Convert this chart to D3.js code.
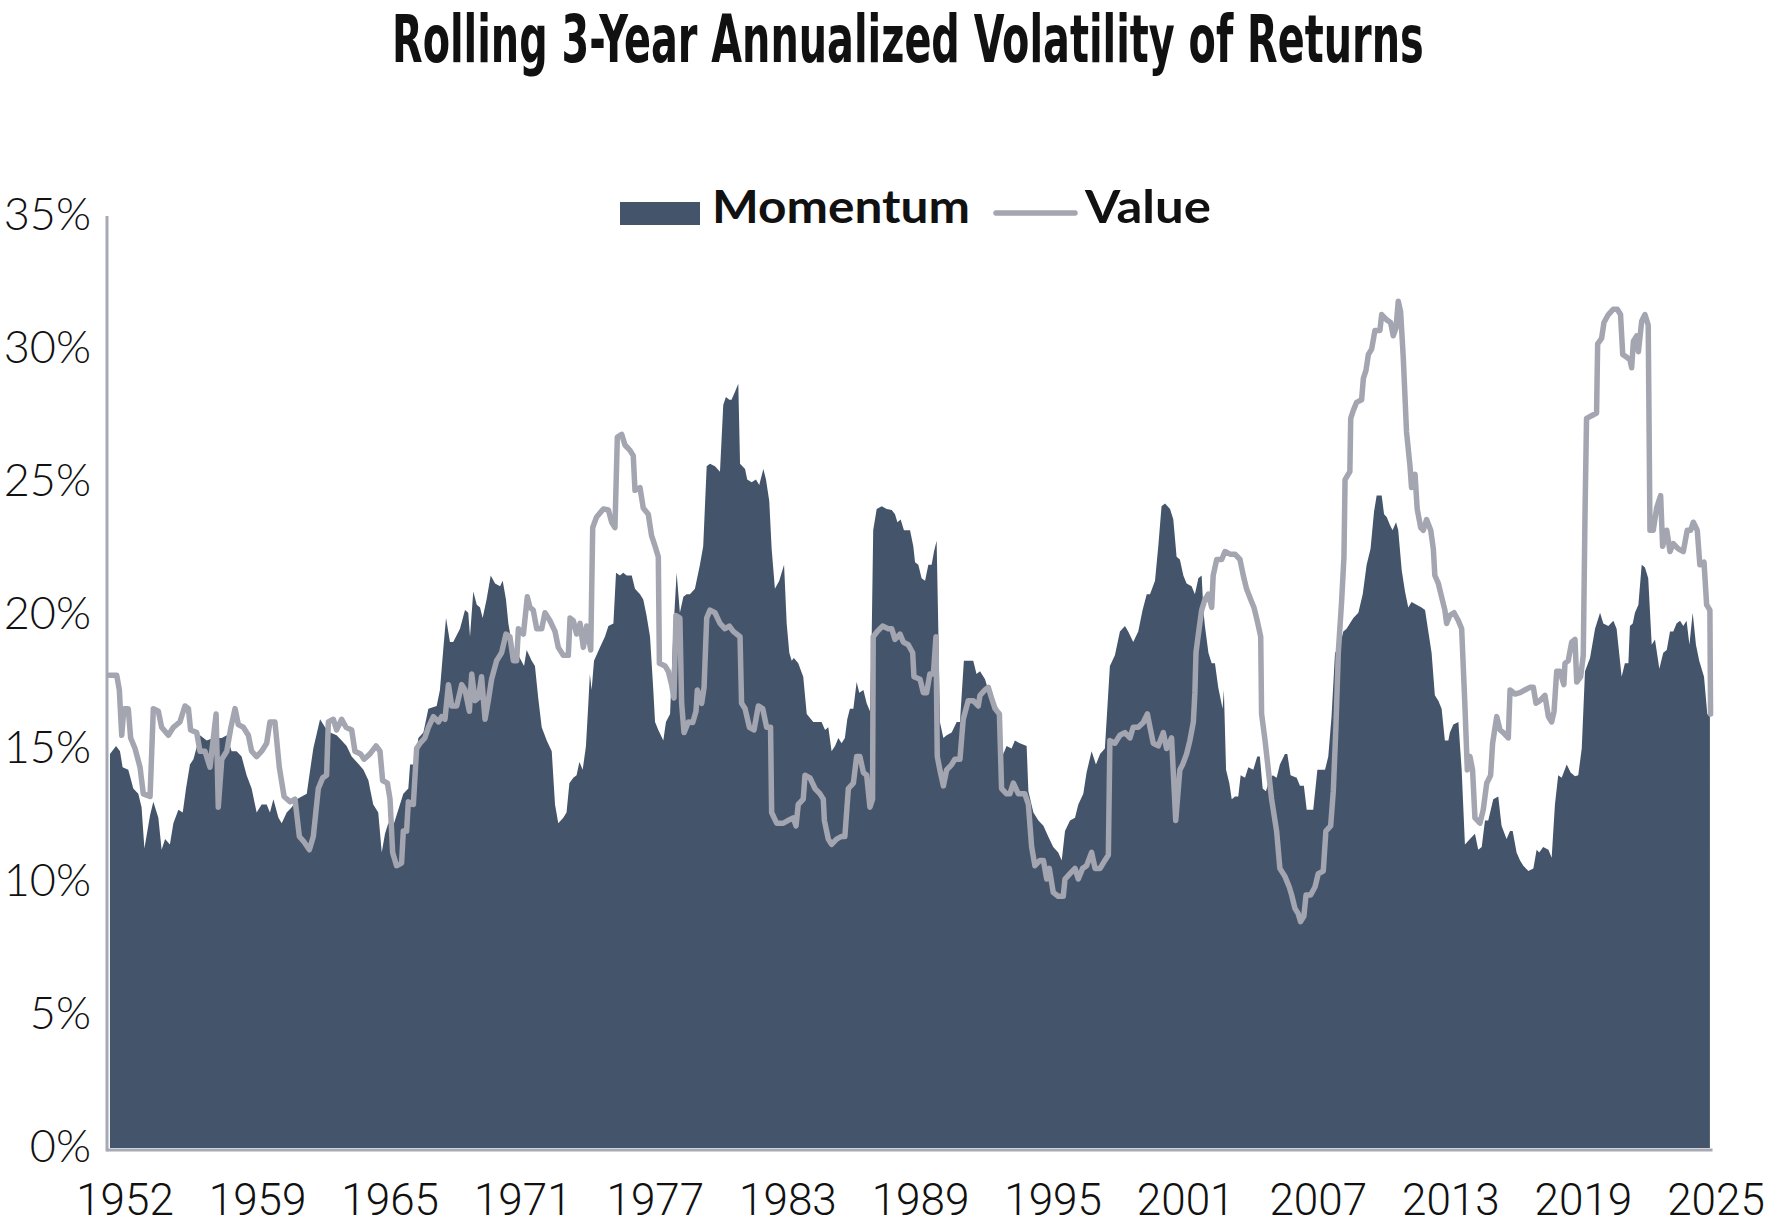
<!DOCTYPE html>
<html>
<head>
<meta charset="utf-8">
<script src="https://cdn.jsdelivr.net/npm/d3@7"></script>
<style>
  body { margin: 0; background: #fff; }
</style>
</head>
<body>
<div id="chart"></div>
<script>
// Chart data: [year, volatility %]
const momentum = [
  [1952.23,14.8],[1952.51,15.1],[1952.69,14.9],[1952.81,14.3],[1953.07,14.2],[1953.30,13.5],[1953.53,13.3],[1953.68,12.8],[1953.81,11.25],[1954.07,12.5],[1954.22,13.0],[1954.45,12.4],[1954.60,11.2],[1954.76,11.6],[1954.98,11.4],[1955.14,12.2],[1955.37,12.7],[1955.57,12.6],[1955.72,13.5],[1955.90,14.4],[1956.06,14.6],[1956.36,15.5],[1956.67,15.3],[1956.97,15.4],[1957.36,15.4],[1957.59,15.5],[1957.81,14.9],[1958.04,14.9],[1958.27,14.7],[1958.50,14.0],[1958.73,13.5],[1958.96,12.6],[1959.19,12.9],[1959.42,12.9],[1959.57,12.6],[1959.73,13.1],[1959.96,12.4],[1960.11,12.2],[1960.34,12.6],[1960.57,12.8],[1960.80,13.1],[1961.03,13.2],[1961.26,13.3],[1961.38,14.0],[1961.56,15.0],[1961.87,16.1],[1962.10,15.8],[1962.33,15.6],[1962.63,15.5],[1962.86,15.3],[1963.09,15.1],[1963.32,14.7],[1963.55,14.5],[1963.86,14.2],[1964.09,13.8],
  [1964.16,13.5],[1964.31,12.9],[1964.54,12.6],[1964.70,11.1],[1964.85,11.8],[1965.00,12.2],[1965.23,12.1],[1965.69,13.3],[1965.92,13.5],[1966.00,14.4],[1966.23,14.4],[1966.38,15.4],[1966.61,15.6],[1966.84,16.5],[1967.22,16.6],[1967.37,17.2],[1967.53,18.8],[1967.65,19.9],[1967.83,19.0],[1967.98,19.0],[1968.29,19.5],[1968.52,20.2],[1968.67,20.1],[1968.75,19.2],[1968.90,20.9],[1969.06,20.4],[1969.21,20.3],[1969.33,19.9],[1969.51,20.6],[1969.70,21.5],[1969.90,21.2],[1970.13,21.1],[1970.25,21.3],[1970.40,20.6],[1970.51,19.7],[1970.74,18.6],[1970.97,18.5],[1971.23,18.1],[1971.35,18.7],[1971.58,18.3],[1971.73,18.1],[1971.88,16.9],[1972.04,15.8],[1972.27,15.3],[1972.50,14.9],[1972.65,12.9],[1972.80,12.2],[1973.03,12.4],[1973.18,12.6],[1973.31,13.7],[1973.49,13.9],[1973.64,14.0],[1973.77,14.5],[1973.92,14.2],[1974.07,15.1],[1974.18,16.7],[1974.25,17.8],[1974.33,17.2],[1974.44,18.3],[1974.71,18.8],[1974.94,19.2],[1975.10,19.6],[1975.33,19.7],[1975.45,21.6],[1975.63,21.5],[1975.78,21.6],[1975.94,21.5],[1976.17,21.5],[1976.32,21.0],[1976.55,20.8],
  [1976.70,20.6],[1976.85,20.0],[1977.01,19.2],[1977.16,17.2],[1977.24,16.0],[1977.39,15.7],[1977.62,15.3],[1977.74,16.0],[1977.93,16.3],[1978.08,19.4],[1978.23,21.6],[1978.38,20.1],[1978.54,20.7],[1978.69,20.8],[1978.84,20.8],[1979.07,21.0],[1979.30,21.9],[1979.45,22.6],[1979.61,25.6],[1979.76,25.7],[1979.99,25.6],[1980.22,25.4],[1980.37,27.9],[1980.49,28.2],[1980.65,28.1],[1980.75,28.1],[1980.91,28.4],[1981.06,28.7],[1981.14,25.7],[1981.37,25.5],[1981.47,25.1],[1981.67,25.0],[1981.87,25.1],[1982.02,24.9],[1982.21,25.5],[1982.33,25.1],[1982.48,24.3],[1982.59,22.5],[1982.74,21.0],[1982.94,21.3],[1983.16,21.9],[1983.28,19.7],[1983.40,18.6],[1983.51,18.3],[1983.61,18.4],[1983.81,18.2],[1984.04,17.7],[1984.20,16.3],[1984.50,16.0],[1984.88,16.0],[1985.04,15.7],[1985.19,15.8],[1985.34,14.9],[1985.50,15.1],[1985.65,15.4],[1985.80,15.2],[1985.95,15.4],[1986.06,16.1],[1986.18,16.5],[1986.34,16.5],[1986.49,17.5],[1986.61,17.1],[1986.80,17.2],[1986.95,16.7],[1987.10,16.4],[1987.18,19.2],[1987.25,23.2],[1987.41,24.0],[1987.64,24.1],[1987.87,24.0],[1988.10,23.96],[1988.25,23.8],[1988.36,23.5],[1988.51,23.6],[1988.66,23.2],[1988.86,23.2],
  [1988.94,23.2],[1989.09,22.6],[1989.17,22.0],[1989.32,21.9],[1989.47,21.4],[1989.63,21.3],[1989.78,21.9],[1989.93,21.9],[1990.04,22.4],[1990.16,22.8],[1990.24,19.4],[1990.31,16.0],[1990.47,15.4],[1990.62,15.5],[1990.85,15.6],[1991.08,16.0],[1991.23,16.0],[1991.41,18.3],[1991.61,18.3],[1991.84,18.3],[1991.99,17.8],[1992.15,17.9],[1992.38,17.6],[1992.53,17.2],[1992.73,16.8],[1992.99,16.5],[1993.22,14.8],[1993.37,15.1],[1993.60,15.0],[1993.75,15.3],[1993.98,15.2],[1994.29,15.1],[1994.37,13.4],[1994.60,12.6],[1994.83,12.3],[1995.06,12.1],[1995.28,11.7],[1995.51,11.3],[1995.74,11.1],[1995.90,10.8],[1996.05,11.9],[1996.28,12.3],[1996.51,12.4],[1996.66,12.9],[1996.89,13.3],[1997.04,14.1],[1997.27,14.9],[1997.47,14.4],[1997.66,14.8],[1997.88,15.0],[1998.11,18.1],[1998.34,18.5],[1998.57,19.4],[1998.80,19.6],[1998.95,19.4],[1999.18,19.0],[1999.41,19.4],[1999.61,20.2],[1999.80,20.8],[1999.95,20.8],[2000.18,21.3],[2000.33,22.6],[2000.48,24.1],[2000.64,24.2],[2000.87,24.0],[2001.02,23.6],[2001.17,22.2],[2001.32,22.1],
  [2001.48,21.5],[2001.63,21.2],[2001.86,21.1],[2002.01,20.8],[2002.17,21.4],[2002.32,21.5],[2002.40,20.2],[2002.47,19.6],[2002.63,18.6],[2002.78,18.2],[2002.93,18.2],[2003.08,17.3],[2003.28,16.5],[2003.34,17.2],[2003.44,14.2],[2003.59,13.7],[2003.70,13.1],[2003.85,13.2],[2004.00,13.2],[2004.11,14.0],[2004.31,13.9],[2004.46,14.3],[2004.69,14.2],[2004.87,14.7],[2004.99,14.7],[2005.12,13.5],[2005.27,13.4],[2005.42,13.8],[2005.58,14.0],[2005.76,13.9],[2005.91,14.4],[2006.14,14.8],[2006.25,14.8],[2006.40,14.0],[2006.68,13.9],[2006.83,13.6],[2007.01,13.6],[2007.14,12.7],[2007.29,12.7],[2007.44,12.7],[2007.63,14.2],[2007.82,14.2],[2007.98,14.2],[2008.13,14.7],[2008.28,16.2],[2008.44,18.6],[2008.64,18.8],[2008.82,19.4],[2008.97,19.5],[2009.12,19.7],[2009.28,19.9],[2009.51,20.1],[2009.71,20.8],[2009.89,21.9],[2010.07,22.5],[2010.23,23.9],[2010.35,24.5],[2010.50,24.5],[2010.58,24.5],[2010.69,23.8],[2010.81,23.7],[2010.96,23.4],[2011.08,23.2],[2011.24,23.5],[2011.34,23.2],[2011.50,21.7],[2011.65,20.9],[2011.80,20.3],[2011.95,20.5],[2012.18,20.4],[2012.41,20.3],[2012.57,20.2],[2012.72,19.4],[2012.87,18.6],[2013.02,17.0],[2013.18,16.8],[2013.33,16.5],[2013.48,15.3],[2013.64,15.3],
  [2013.71,15.6],[2013.87,15.9],[2014.10,16.0],[2014.25,14.2],[2014.40,11.4],[2014.63,11.6],[2014.86,11.8],[2015.01,11.2],[2015.17,11.3],[2015.32,12.3],[2015.47,12.3],[2015.70,13.1],[2015.93,13.2],[2016.08,12.1],[2016.31,11.6],[2016.47,11.9],[2016.59,11.9],[2016.77,11.1],[2016.93,10.8],[2017.08,10.6],[2017.31,10.4],[2017.54,10.5],[2017.69,11.2],[2017.81,11.1],[2017.99,11.3],[2018.23,11.2],[2018.38,10.9],[2018.53,12.9],[2018.68,14.0],[2018.84,13.9],[2019.07,14.4],[2019.25,14.1],[2019.45,13.96],[2019.60,14.0],[2019.76,15.0],[2019.91,17.9],[2020.14,18.4],[2020.37,19.5],[2020.60,20.1],[2020.75,19.7],[2020.98,19.6],[2021.21,19.8],[2021.36,19.5],[2021.59,17.7],[2021.74,18.2],[2021.90,18.2],[2021.97,19.6],[2022.10,19.7],[2022.20,20.1],[2022.36,20.4],[2022.51,21.9],[2022.66,21.8],[2022.81,21.4],[2022.97,18.9],[2023.12,19.1],[2023.32,18.0],[2023.50,18.6],[2023.66,18.7],[2023.81,19.4],[2023.96,19.4],[2024.11,19.7],[2024.27,19.8],[2024.42,19.6],[2024.57,19.8],[2024.70,18.9],[2024.85,20.1],[2025.00,18.9],[2025.15,18.3],[2025.37,17.7],[2025.52,16.3],[2025.64,16.2]
];

const value = [
  [1952.20,17.75],[1952.54,17.75],[1952.66,17.2],[1952.77,15.5],[1952.87,16.5],[1953.07,16.5],[1953.18,15.4],[1953.38,15.0],[1953.61,14.3],[1953.76,13.3],[1954.07,13.2],[1954.22,16.5],[1954.45,16.4],[1954.60,15.8],[1954.91,15.5],[1955.14,15.8],[1955.44,16.0],[1955.67,16.6],[1955.83,16.5],[1955.93,15.7],[1956.21,15.6],[1956.36,14.9],[1956.59,14.9],[1956.82,14.3],[1957.10,16.3],[1957.20,12.8],[1957.36,14.6],[1957.59,14.9],[1957.78,15.8],[1957.97,16.5],[1958.12,15.9],[1958.35,15.8],[1958.58,15.5],[1958.73,14.9],[1958.96,14.7],[1959.19,14.9],[1959.42,15.2],[1959.57,16.0],[1959.80,16.0],[1960.00,14.3],[1960.22,13.2],[1960.49,13.0],[1960.72,13.1],[1960.92,11.7],[1961.13,11.5],[1961.38,11.2],[1961.56,11.7],[1961.79,13.5],[1961.99,13.9],[1962.17,14.0],[1962.25,16.0],[1962.48,16.1],[1962.63,15.7],[1962.86,16.1],[1963.06,15.8],[1963.32,15.7],[1963.47,14.9],[1963.73,14.8],[1963.89,14.6],
  [1964.16,14.8],[1964.44,15.1],[1964.62,14.9],[1964.74,13.8],[1964.96,13.7],[1965.08,13.1],[1965.20,11.1],[1965.38,10.6],[1965.61,10.7],[1965.69,11.9],[1965.84,11.9],[1965.92,13.0],[1966.15,12.9],[1966.30,15.0],[1966.46,15.2],[1966.68,15.4],[1966.84,15.8],[1967.07,16.2],[1967.30,16.0],[1967.45,16.2],[1967.60,16.1],[1967.76,17.4],[1967.91,16.6],[1968.14,16.6],[1968.37,17.4],[1968.52,17.2],[1968.72,16.4],[1968.83,17.8],[1968.98,16.8],[1969.13,16.9],[1969.28,17.7],[1969.44,16.1],[1969.59,16.8],[1969.74,17.6],[1969.97,18.3],[1970.20,18.6],[1970.40,19.3],[1970.58,19.2],[1970.74,18.3],[1970.89,18.3],[1970.97,19.5],[1971.20,19.3],[1971.38,20.7],[1971.50,20.3],[1971.65,20.2],[1971.81,19.5],[1972.04,19.5],[1972.19,20.1],[1972.42,19.8],[1972.65,19.4],[1972.80,18.8],[1973.03,18.5],[1973.26,18.5],[1973.34,19.9],[1973.49,19.8],[1973.64,19.3],[1973.80,19.7],[1973.95,18.8],[1974.10,19.6],[1974.29,18.7],[1974.38,23.3],[1974.56,23.7],[1974.87,24.0],[1975.10,23.96],[1975.25,23.5],[1975.40,23.3],[1975.51,26.7],[1975.71,26.8],[1975.86,26.4],[1976.09,26.2],[1976.24,26.0],[1976.32,24.7],[1976.55,24.8],
  [1976.70,24.03],[1976.93,23.8],[1977.08,23.0],[1977.24,22.6],[1977.39,22.2],[1977.44,18.2],[1977.70,18.1],[1977.85,17.9],[1978.00,17.4],[1978.11,16.9],[1978.20,20.0],[1978.38,19.9],[1978.46,16.7],[1978.57,15.6],[1978.77,16.0],[1978.97,15.98],[1979.12,16.4],[1979.18,17.2],[1979.38,16.7],[1979.49,17.3],[1979.61,19.9],[1979.76,20.2],[1979.99,20.1],[1980.22,19.7],[1980.45,19.5],[1980.65,19.6],[1980.83,19.4],[1981.14,19.2],[1981.21,16.7],[1981.37,16.5],[1981.57,15.8],[1981.78,15.7],[1981.98,16.6],[1982.18,16.5],[1982.36,15.8],[1982.54,15.8],[1982.59,12.6],[1982.82,12.2],[1983.13,12.2],[1983.35,12.3],[1983.58,12.4],[1983.71,12.1],[1983.81,12.9],[1984.04,13.1],[1984.12,14.0],[1984.35,13.9],[1984.58,13.5],[1984.81,13.3],[1984.96,13.1],[1985.01,12.3],[1985.19,11.6],[1985.34,11.4],[1985.57,11.6],[1985.80,11.7],[1985.95,11.7],[1986.11,13.5],[1986.34,13.7],[1986.49,14.7],[1986.64,14.7],[1986.80,14.1],[1986.95,14.0],[1987.10,12.8],[1987.22,13.1],[1987.25,19.2],[1987.44,19.4],[1987.68,19.6],[1987.94,19.5],[1988.10,19.5],[1988.25,19.1],[1988.48,19.3],[1988.63,19.0],[1988.86,18.9],
  [1989.06,18.6],[1989.12,17.7],[1989.40,17.6],[1989.55,17.1],[1989.70,17.1],[1989.85,17.8],[1990.01,17.8],[1990.13,19.2],[1990.19,14.7],[1990.31,14.2],[1990.47,13.6],[1990.62,14.2],[1990.85,14.4],[1991.00,14.6],[1991.23,14.6],[1991.38,16.1],[1991.61,16.8],[1991.84,16.8],[1992.07,16.6],[1992.15,17.0],[1992.38,17.2],[1992.53,17.3],[1992.68,16.9],[1992.84,16.5],[1993.04,16.3],[1993.14,13.5],[1993.37,13.3],[1993.52,13.3],[1993.68,13.7],[1993.91,13.3],[1994.21,13.3],[1994.37,12.9],[1994.52,11.3],[1994.67,10.6],[1994.90,10.8],[1995.06,10.8],[1995.21,10.1],[1995.33,10.5],[1995.51,9.6],[1995.74,9.45],[1995.97,9.45],[1996.05,10.1],[1996.28,10.3],[1996.51,10.5],[1996.66,10.1],[1996.86,10.5],[1997.04,10.6],[1997.27,11.1],[1997.43,10.5],[1997.66,10.5],[1997.88,10.8],[1998.04,11.0],[1998.11,15.3],[1998.34,15.2],[1998.57,15.5],[1998.80,15.6],[1999.03,15.4],[1999.18,15.8],[1999.41,15.8],[1999.64,15.98],[1999.83,16.3],[1999.95,15.8],[2000.10,15.2],[2000.33,15.1],[2000.56,15.6],[2000.71,15.0],[2000.94,15.4],[2001.13,12.3],[2001.32,14.2],
  [2001.45,14.4],[2001.63,14.8],[2001.78,15.3],[2001.94,16.0],[2002.01,17.1],[2002.06,18.6],[2002.17,19.3],[2002.32,20.2],[2002.47,20.6],[2002.63,20.8],[2002.78,20.3],[2002.85,21.5],[2003.01,22.1],[2003.24,22.1],[2003.39,22.4],[2003.62,22.3],[2003.85,22.3],[2004.08,22.1],[2004.23,21.5],[2004.38,21.0],[2004.57,20.6],[2004.72,20.3],[2004.87,19.8],[2005.03,19.2],[2005.07,16.3],[2005.23,15.3],[2005.38,14.2],[2005.53,13.1],[2005.76,11.9],[2005.91,10.5],[2006.14,10.2],[2006.34,9.8],[2006.45,9.5],[2006.60,9.0],[2006.75,8.8],[2006.86,8.5],[2007.01,8.7],[2007.11,9.5],[2007.32,9.5],[2007.52,9.8],[2007.67,10.3],[2007.90,10.4],[2008.02,11.9],[2008.24,12.1],[2008.36,13.4],[2008.48,15.8],[2008.59,18.6],[2008.74,20.5],[2008.85,22.2],[2008.90,25.1],[2009.12,25.4],[2009.16,27.4],[2009.28,27.7],[2009.43,28.0],[2009.66,28.1],[2009.74,28.9],[2009.86,29.2],[2009.97,29.8],[2010.12,30.0],[2010.27,30.7],[2010.50,30.7],[2010.58,31.3],[2010.81,31.1],[2010.99,31.0],[2011.11,30.5],[2011.24,30.8],[2011.34,31.8],[2011.45,31.4],[2011.57,29.7],[2011.72,26.9],[2011.88,25.6],[2011.95,24.8],[2012.11,25.3],[2012.21,24.0],[2012.37,23.3],[2012.49,23.2],[2012.64,23.6],[2012.83,23.2],[2012.95,22.5],[2013.02,21.5],[2013.18,21.2],[2013.33,20.7],[2013.48,20.2],[2013.56,19.7],
  [2013.71,20.0],[2013.90,20.1],[2014.10,19.8],[2014.25,19.5],[2014.40,16.6],[2014.51,14.2],[2014.63,14.7],[2014.75,14.2],[2014.86,12.4],[2015.09,12.2],[2015.24,12.7],[2015.40,13.7],[2015.58,14.0],[2015.67,15.2],[2015.86,16.2],[2016.01,15.7],[2016.16,15.6],[2016.39,15.4],[2016.47,17.2],[2016.70,17.05],[2016.93,17.1],[2017.15,17.2],[2017.38,17.3],[2017.54,17.3],[2017.66,16.7],[2017.84,16.8],[2018.07,17.0],[2018.23,16.2],[2018.38,16.0],[2018.49,16.4],[2018.61,17.9],[2018.76,17.9],[2018.94,17.4],[2018.99,18.2],[2019.14,18.3],[2019.30,19.0],[2019.45,19.1],[2019.53,17.5],[2019.71,17.7],[2019.83,18.5],[2019.91,23.8],[2019.98,27.4],[2020.21,27.5],[2020.44,27.6],[2020.49,30.2],[2020.67,30.4],[2020.78,31.0],[2020.98,31.3],[2021.21,31.5],[2021.39,31.5],[2021.54,31.3],[2021.64,29.8],[2021.82,29.7],[2021.97,29.6],[2022.05,29.3],[2022.13,30.3],[2022.28,30.5],[2022.36,29.9],[2022.51,31.05],[2022.66,31.3],[2022.81,30.9],[2022.89,23.2],[2023.04,23.2],[2023.20,24.05],[2023.38,24.5],[2023.47,22.6],[2023.66,23.2],[2023.81,22.4],[2023.96,22.7],[2024.19,22.5],[2024.42,22.4],[2024.60,23.2],[2024.76,23.2],[2024.88,23.5],[2025.06,23.2],[2025.18,21.9],[2025.37,22.0],[2025.49,20.4],[2025.64,20.2],[2025.67,16.3]
];

const tickLabels = ["1952", "1959", "1965", "1971", "1977", "1983", "1989", "1995", "2001", "2007", "2013", "2019", "2025"];
const yTicks = [0, 5, 10, 15, 20, 25, 30, 35];
const seriesNames = ["Momentum", "Value"];

// Front end constants
const width = 1782;
const height = 1227;
const fillColor = "#44546a";
const lineColor = "#a3a5b0";
const axisColor = "#a7aab5";

const svg = d3.select("#chart").append("svg")
    .attr("width", width)
    .attr("height", height)

// Squeeze a text sideways so it spans the given width (the reference fonts are condensed)
function fitWidth(sel, x, y, w)
{
    const natural = sel.node().getComputedTextLength();
    sel.attr("x", 0).attr("y", 0)
        .attr("transform", `translate(${x}, ${y}) scale(${w / natural}, 1)`)
}

// Category axis: one label every 73 months, first one at Dec 1952
const firstTick = 1952.92;
const xScale = d3.scaleLinear()
    .domain([firstTick, firstTick + 73])
    .range([125, 1716])

const yScale = d3.scaleLinear()
    .domain([0, 35])
    .range([1148, 216])

// Title
const title = svg.append("text")
    .style("font-family", "'DejaVu Sans Condensed', 'DejaVu Sans', sans-serif")
    .style("font-weight", "bold")
    .style("font-size", "66px")
    .attr("fill", "#111")
    .text("Rolling 3-Year Annualized Volatility of Returns")
fitWidth(title, 392, 62, 1032)

// Momentum area
const area = d3.area()
    .x((d) => xScale(d[0]))
    .y0(yScale(0))
    .y1((d) => yScale(d[1]))

svg.append("path")
    .datum(momentum)
    .attr("fill", fillColor)
    .attr("d", area)

// Axis lines
svg.append("line")
    .attr("x1", 107).attr("x2", xScale(2025.67) + 2)
    .attr("y1", yScale(0) + 2).attr("y2", yScale(0) + 2)
    .attr("stroke", axisColor)
    .attr("stroke-width", 3)

svg.append("line")
    .attr("x1", 107).attr("x2", 107)
    .attr("y1", yScale(35)).attr("y2", yScale(0) + 3.5)
    .attr("stroke", axisColor)
    .attr("stroke-width", 3)

// Value line
const line = d3.line()
    .x((d) => xScale(d[0]))
    .y((d) => yScale(d[1]))

svg.append("path")
    .datum(value)
    .attr("fill", "none")
    .attr("stroke", lineColor)
    .attr("stroke-width", 5.5)
    .attr("stroke-linejoin", "round")
    .attr("stroke-linecap", "round")
    .attr("d", line)

// Y tick labels
svg.append("g")
    .selectAll("text")
    .data(yTicks)
    .join("text")
    .attr("x", 91)
    .attr("y", (d) => yScale(d) + 14)
    .attr("text-anchor", "end")
    .style("font-family", "Lato, 'Open Sans', sans-serif")
    .style("font-weight", 300)
    .style("font-size", "45px")
    .attr("fill", "#111")
    .text((d) => d + "%")

// X tick labels
svg.append("g")
    .selectAll("text")
    .data(tickLabels)
    .join("text")
    .attr("x", (d, i) => xScale(firstTick + i * 73 / 12))
    .attr("y", 1215)
    .attr("text-anchor", "middle")
    .style("font-family", "Roboto, 'Liberation Sans', sans-serif")
    .style("font-weight", 300)
    .style("font-size", "44px")
    .attr("fill", "#111")
    .text((d) => d)

// Legend
const legend = svg.append("g")

legend.append("rect")
    .attr("x", 620).attr("y", 202)
    .attr("width", 80).attr("height", 23)
    .attr("fill", fillColor)

const momentumLabel = legend.append("text")
    .style("font-family", "Lato, 'Open Sans', sans-serif")
    .style("font-weight", "bold")
    .style("font-size", "46px")
    .attr("fill", "#111")
    .text(seriesNames[0])
fitWidth(momentumLabel, 712, 223, 258)

legend.append("line")
    .attr("x1", 996).attr("x2", 1075)
    .attr("y1", 213).attr("y2", 213)
    .attr("stroke", lineColor)
    .attr("stroke-width", 5.5)
    .attr("stroke-linecap", "round")

const valueLabel = legend.append("text")
    .style("font-family", "Lato, 'Open Sans', sans-serif")
    .style("font-weight", "bold")
    .style("font-size", "46px")
    .attr("fill", "#111")
    .text(seriesNames[1])
fitWidth(valueLabel, 1085, 223, 126)
</script>
</body>
</html>
